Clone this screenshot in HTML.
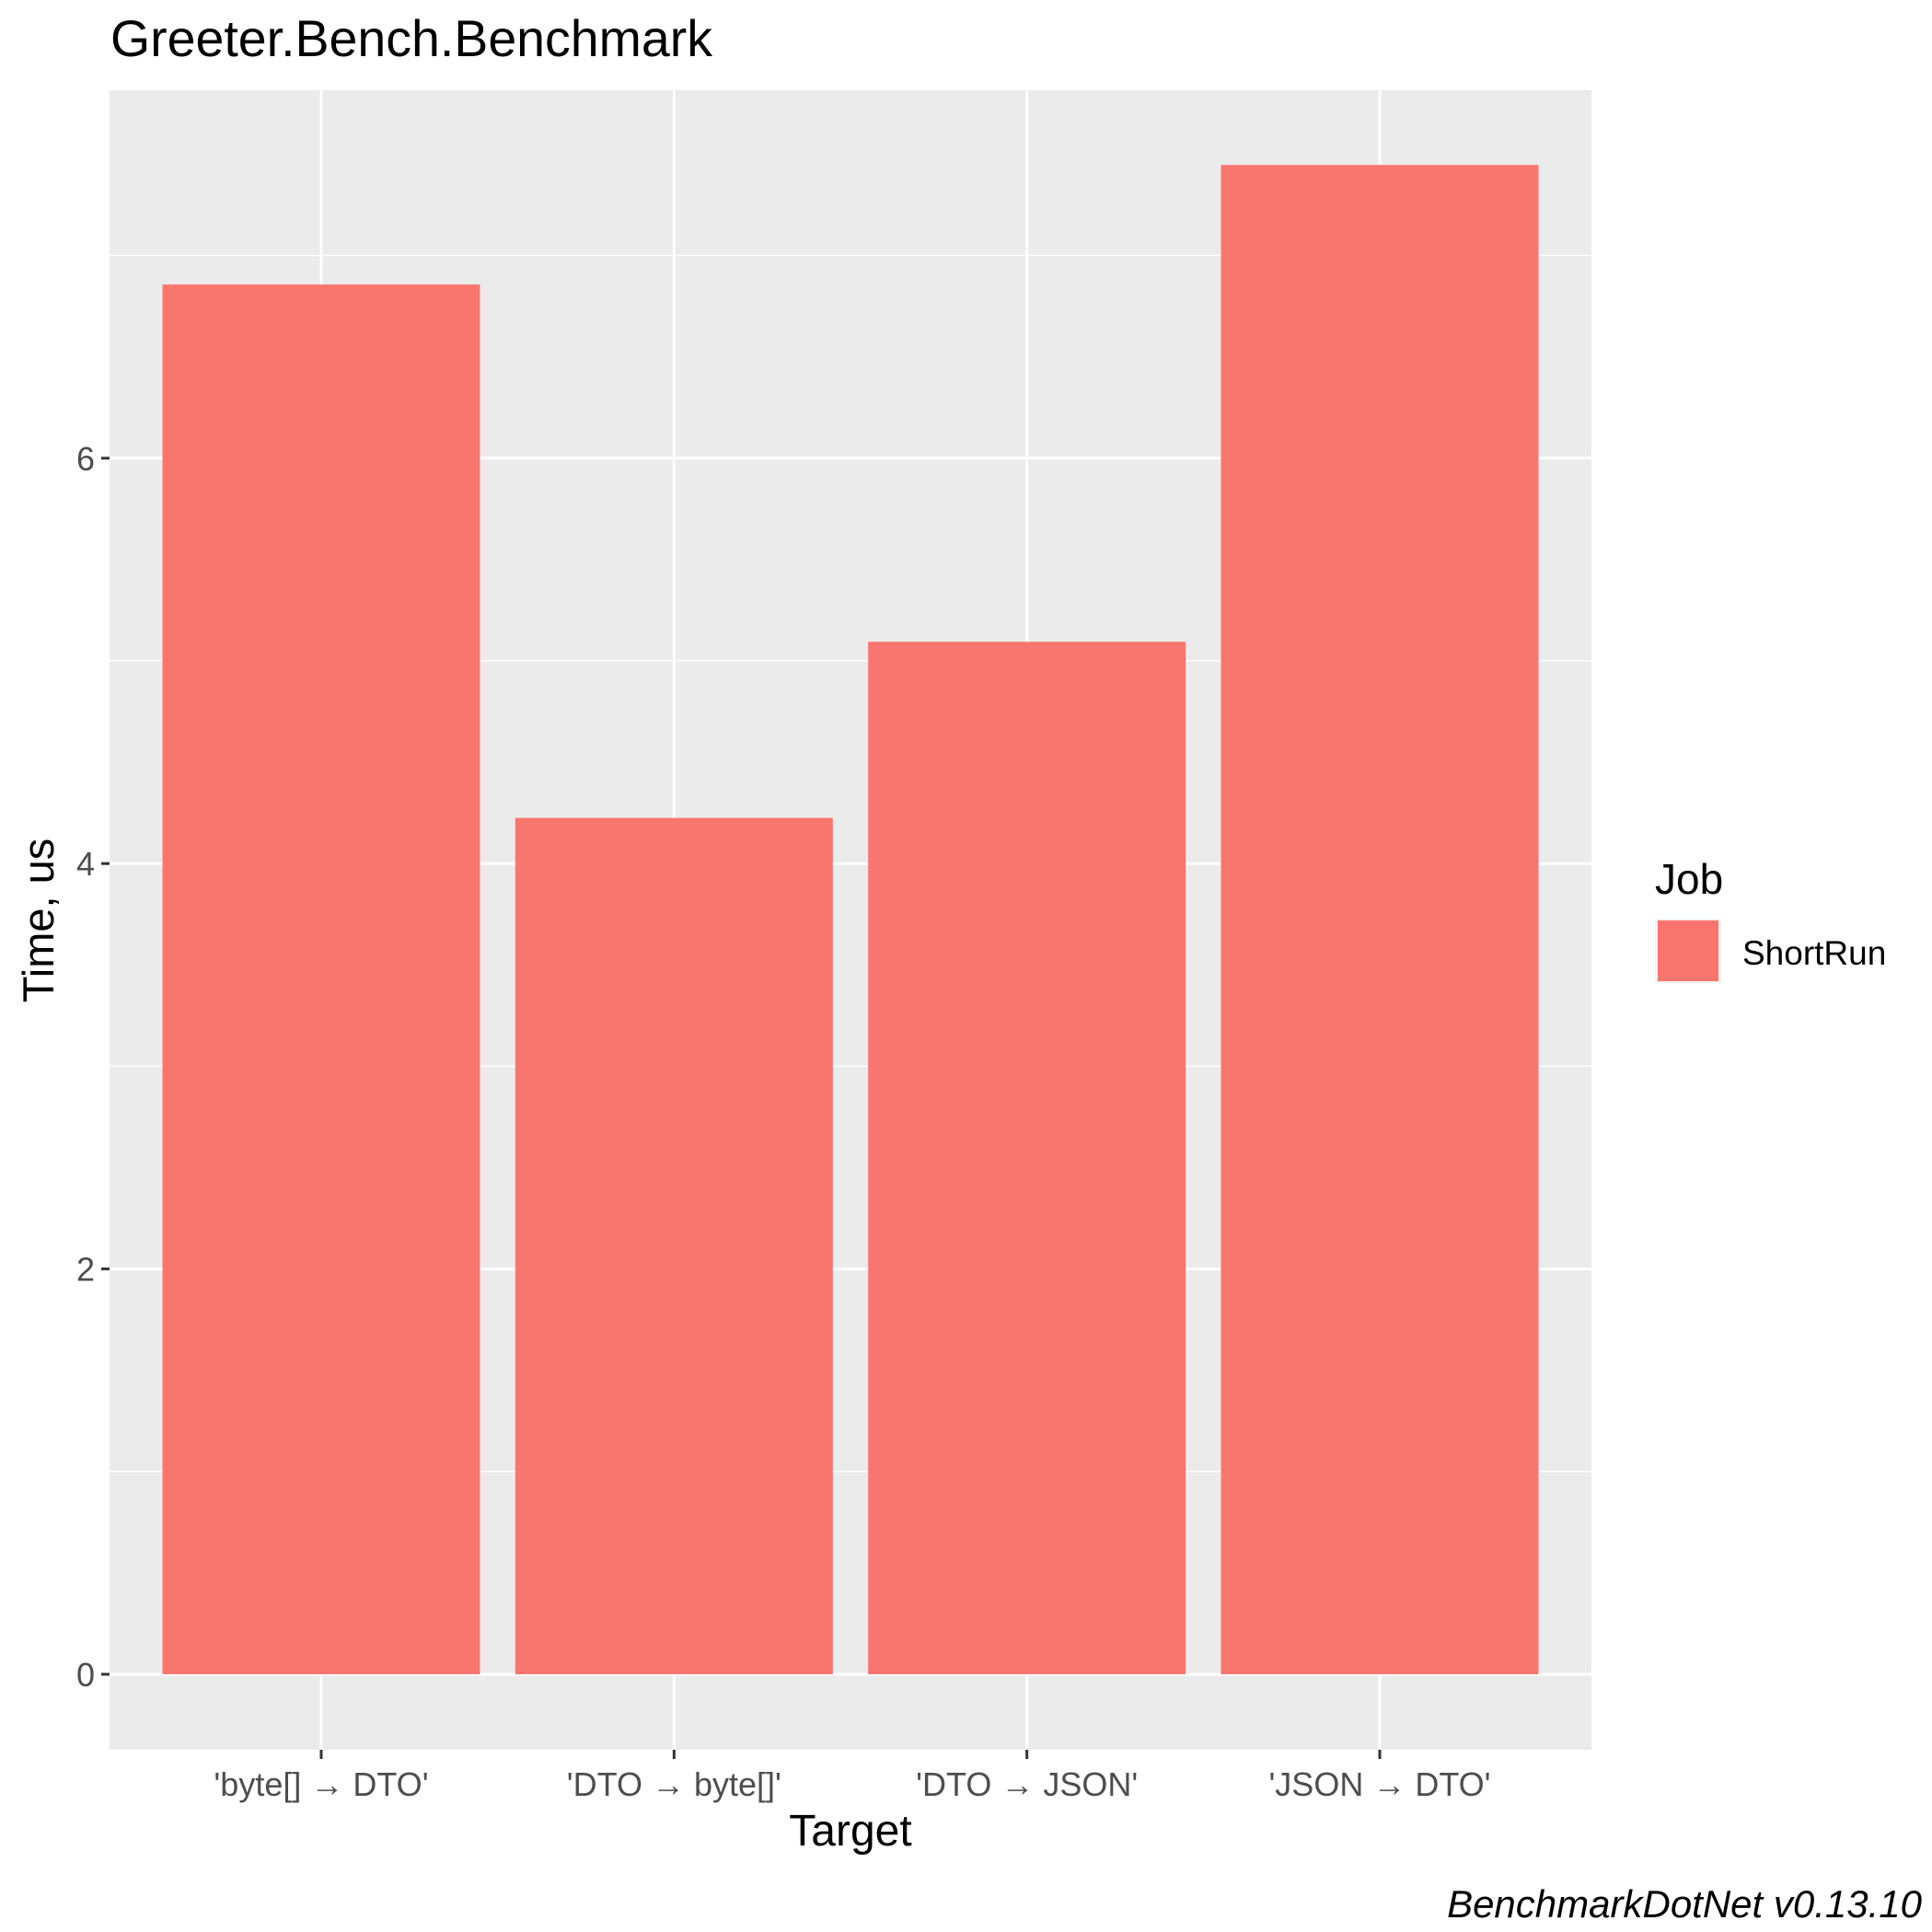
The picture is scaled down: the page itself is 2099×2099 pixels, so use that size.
<!DOCTYPE html>
<html><head><meta charset="utf-8"><style>
html,body{margin:0;padding:0;background:#fff}
svg{display:block}
text{font-family:"Liberation Sans",Arial,sans-serif}
</style></head><body>
<svg id="chart" width="2099" height="2099" viewBox="0 0 2099 2099">
<rect x="0" y="0" width="2099" height="2099" fill="#fff"/>
<text x="120" y="61" font-size="55.5" fill="#000">Greeter.Bench.Benchmark</text>
<rect x="119" y="98" width="1610" height="1803" fill="#EBEBEB"/>
<g id="grid"></g>
<g id="bars"></g>
<g id="axes"></g>
<text x="924" y="2005" font-size="48" text-anchor="middle" fill="#000">Target</text>
<text transform="translate(58,1000) rotate(-90)" font-size="47" text-anchor="middle" fill="#000">Time, us</text>
<g>
<text x="1798" y="971" font-size="46" fill="#000">Job</text>
<rect x="1798" y="998" width="72" height="70" fill="#F2F2F2"/>
<rect x="1801" y="1000" width="66" height="66" fill="#F8766D"/>
<text x="1893" y="1048" font-size="37" fill="#000">ShortRun</text>
</g>
<text x="2088" y="2083" font-size="42" font-style="italic" text-anchor="end" fill="#000">BenchmarkDotNet v0.13.10</text>
</svg>
<script>
const categories = ["'byte[] \u2192 DTO'", "'DTO \u2192 byte[]'", "'DTO \u2192 JSON'", "'JSON \u2192 DTO'"];
const values = [6.857, 4.225, 5.094, 7.447];
const yTicks = [0, 2, 4, 6];
const yMinor = [1, 3, 5, 7];

const NS = "http://www.w3.org/2000/svg";
const PL = 119, PR = 1729, PT = 98, PB = 1901;
const Y0 = 1819, UNIT = 220.2;
const y = v => Y0 - v * UNIT;
const step = (PR - PL) / (categories.length + 0.2);
const x = i => PL + step * 0.6 + i * step;
const bw = step * 0.9;
function mk(tag, attrs, parent) {
  const e = document.createElementNS(NS, tag);
  for (const k in attrs) e.setAttribute(k, attrs[k]);
  parent.appendChild(e);
  return e;
}
const grid = document.getElementById('grid');
const bars = document.getElementById('bars');
const axes = document.getElementById('axes');
yMinor.forEach(v => {
  const l = mk('line', {x1: PL, x2: PR, y1: y(v), y2: y(v), stroke: '#fff', 'stroke-width': 1.5}, grid);
  
  
});
yTicks.forEach(v => {
  const l = mk('line', {x1: PL, x2: PR, y1: y(v), y2: y(v), stroke: '#fff', 'stroke-width': 3}, grid);
  
  
  const t = mk('line', {x1: PL - 9, x2: PL, y1: y(v), y2: y(v), stroke: '#333', 'stroke-width': 3}, axes);
  
  
  const tx = mk('text', {x: PL - 16, y: y(v) + 13, 'font-size': 36, fill: '#4D4D4D', 'text-anchor': 'end'}, axes);
  tx.textContent = v;
  
  
});
categories.forEach((c, i) => {
  const l = mk('line', {x1: x(i), x2: x(i), y1: PT, y2: PB, stroke: '#fff', 'stroke-width': 3}, grid);
  
  
  const r = mk('rect', {x: x(i) - bw / 2, y: y(values[i]), width: bw, height: y(0) - y(values[i]), fill: '#F8766D'}, bars);
  
  
  const t = mk('line', {x1: x(i), x2: x(i), y1: PB, y2: PB + 10, stroke: '#333', 'stroke-width': 3}, axes);
  
  
  const tx = mk('text', {x: x(i), y: 1951, 'font-size': 36, fill: '#4D4D4D', 'text-anchor': 'middle'}, axes);
  tx.textContent = c;
  
  
});
</script>
</body></html>
